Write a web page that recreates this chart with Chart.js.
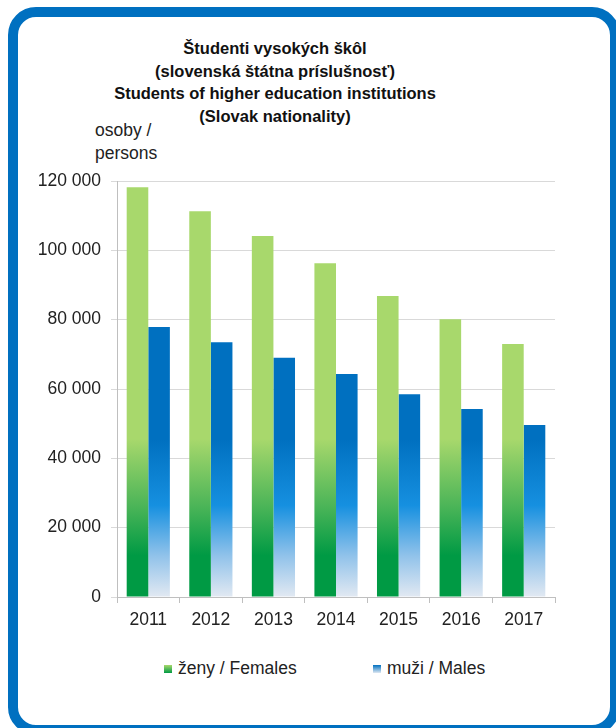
<!DOCTYPE html>
<html>
<head>
<meta charset="utf-8">
<script src="https://cdn.jsdelivr.net/npm/chart.js@4"></script>
<style>
  body { margin: 0; width: 616px; height: 728px; overflow: hidden; background: #fff; font-family: "Liberation Sans", Arial, sans-serif; }
  #frame { position: absolute; left: 8px; top: 7px; width: 612px; height: 728px; box-sizing: border-box; border: 10px solid #0070c0; border-radius: 28px; }
  #wrap { position: absolute; left: 0; top: 0; width: 616px; height: 728px; }
  #title { position: absolute; left: 75px; width: 400px; top: 37px; text-align: center; font-weight: bold; font-size: 16.5px; line-height: 22.5px; color: #111; }
  #unit { position: absolute; left: 95px; top: 119px; font-size: 17.5px; line-height: 23px; color: #222; }
  .leg { position: absolute; top: 658px; font-size: 17.5px; line-height: 20px; color: #222; }
  .leg i { display: inline-block; width: 8px; height: 8px; margin-right: 6px; vertical-align: 1px; }
</style>
</head>
<body>
<div id="frame"></div>
<div id="title">Študenti vysokých škôl<br>(slovenská štátna príslušnosť)<br>Students of higher education institutions<br>(Slovak nationality)</div>
<div id="unit">osoby /<br>persons</div>
<div class="leg" style="left:164px"><i style="background:linear-gradient(#a8d86c,#009a44)"></i>ženy / Females</div>
<div class="leg" style="left:373px"><i style="background:linear-gradient(#0070c0,#dfe8f2)"></i>muži / Males</div>
<div id="wrap"><canvas id="bar-chart" width="616" height="728"></canvas></div>
<script>
var years = ["2011", "2012", "2013", "2014", "2015", "2016", "2017"];
var females = [118200, 111300, 104100, 96300, 86800, 80100, 73000];
var males = [77900, 73500, 69000, 64300, 58500, 54200, 49600];
var yTicks = [0, 20000, 40000, 60000, 80000, 100000, 120000];

function greenFill(context) {
  var area = context.chart.chartArea;
  if (!area) return "#a8d86c";
  var g = context.chart.ctx.createLinearGradient(0, area.bottom, 0, area.top);
  g.addColorStop(0, "#009a44");
  g.addColorStop(0.1, "#009a44");
  g.addColorStop(0.22, "#4cb558");
  g.addColorStop(0.38, "#a8d86c");
  g.addColorStop(1, "#a8d86c");
  return g;
}

function blueFill(context) {
  var area = context.chart.chartArea;
  if (!area) return "#0070c0";
  var g = context.chart.ctx.createLinearGradient(0, area.bottom, 0, area.top);
  g.addColorStop(0, "#e2e9f2");
  g.addColorStop(0.1, "#90c2ea");
  g.addColorStop(0.22, "#1690e0");
  g.addColorStop(0.38, "#0070c0");
  g.addColorStop(1, "#0070c0");
  return g;
}

Chart.defaults.font.family = '"Liberation Sans", Arial, sans-serif';
Chart.defaults.font.size = 17.5;
Chart.defaults.color = "#222";

new Chart("bar-chart", {
  type: "bar",
  data: {
    labels: years,
    datasets: [{
      label: "ženy / Females",
      data: females,
      backgroundColor: greenFill
    }, {
      label: "muži / Males",
      data: males,
      backgroundColor: blueFill
    }]
  },
  options: {
    responsive: false,
    animation: false,
    categoryPercentage: 0.69,
    barPercentage: 1,
    layout: {
      padding: { left: 17, right: 61, top: 181, bottom: 91 }
    },
    plugins: {
      legend: { display: false },
      title: { display: false },
      tooltip: { enabled: false }
    },
    scales: {
      x: {
        afterFit: function (scale) { scale.height = 40; },
        grid: {
          offset: true,
          drawOnChartArea: false,
          tickLength: 6,
          color: "#bfbfbf"
        },
        border: { color: "#bfbfbf" },
        ticks: { padding: 7, color: "#222" }
      },
      y: {
        min: 0,
        max: 120000,
        afterFit: function (scale) { scale.width = 100; },
        afterBuildTicks: function (scale) {
          scale.ticks = yTicks.map(function (v) { return { value: v }; });
        },
        grid: { color: "#d9d9d9", tickLength: 6 },
        border: { color: "#bfbfbf" },
        ticks: {
          padding: 10,
          color: "#222",
          callback: function (v) {
            return String(v).replace(/\B(?=(\d{3})+(?!\d))/g, " ");
          }
        }
      }
    }
  }
});
</script>
</body>
</html>
